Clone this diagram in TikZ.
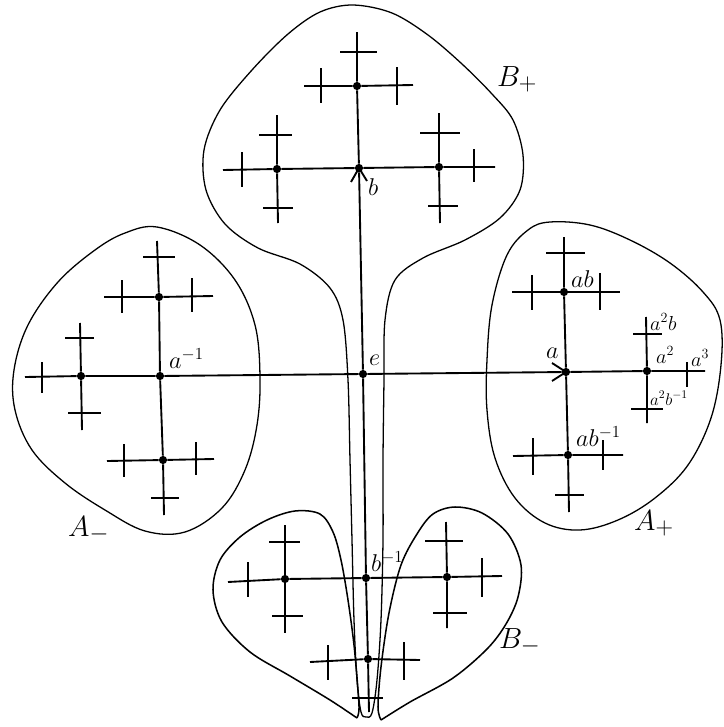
\documentclass[tikz,border=0pt]{standalone}
\begin{document}
\begin{tikzpicture}[x=0.03cm,y=-0.03cm,
  tree/.style={line width=1.6pt},
  tick/.style={line width=1.3pt},
  contour/.style={line width=1.1pt},
  lobe/.style={line width=1.3pt},
  dot/.style={circle,fill,inner sep=0pt,minimum size=7pt},
  lab/.style={inner sep=0pt,anchor=base west,font=\huge},
  slab/.style={inner sep=0pt,anchor=base west,font=\LARGE},
  xlab/.style={inner sep=0pt,anchor=base west,font=\Large},
  region/.style={inner sep=0pt,anchor=base west,font=\fontsize{28}{30}\selectfont}]
\useasboundingbox (0,0) rectangle (723,727);

% ---------- contours ----------
\draw[contour] plot[smooth cycle, tension=0.55] coordinates {
 (353,5) (392,13) (428,35) (462,64) (492,94) (513,120) (523,155) (520,190)
 (500,218) (465,240) (423,258) (395,280) (385,320) (384,380) (383,460)
 (383,540) (381,620) (377,680) (372,713) (366,717) (361,712) (357,680)
 (354,620) (352,540) (350,460) (348,380) (343,320) (330,288) (300,264)
 (258,248) (225,224) (206,190) (204,150) (220,110) (252,70) (288,34)
 (320,12)};
\draw[contour] plot[smooth cycle, tension=0.6] coordinates {
 (157,227) (200,245) (235,280) (255,325) (260,377) (257,425) (245,470)
 (222,508) (185,532) (145,531) (105,510) (65,483) (32,450) (15,410)
 (14,370) (28,325) (58,282) (95,250) (125,233)};
\draw[contour] plot[smooth cycle, tension=0.6] coordinates {
 (550,222) (590,225) (630,240) (670,263) (703,292) (720,320) (721,365)
 (711,418) (688,465) (655,498) (618,520) (580,530) (545,523) (515,498)
 (495,458) (487,410) (487,360) (492,305) (507,255) (528,230)};
\draw[lobe] plot[smooth, tension=0.55] coordinates {
 (357,718) (330,700) (290,676) (250,652) (222,622) (213,590) (220,560)
 (240,537) (267,520) (295,511) (320,514) (333,532) (341,560) (348,600)
 (354,645) (358,690) (359,710) (357,718)};
\draw[lobe] plot[smooth, tension=0.55] coordinates {
 (381,720) (410,702) (453,678) (487,649) (506,624) (518,597) (521,565)
 (508,534) (482,513) (455,507) (433,514) (417,534) (401,565) (389,613)
 (381,667) (378,707) (381,720)};

% ---------- vertices ----------
\coordinate (top) at (357,32);
\coordinate (bot) at (369,712);
\coordinate (left) at (25,377);
\coordinate (right) at (705,371);
\node[dot] (e) at (363,374) {};
\node[dot] (b) at (359,168) {};
\node[dot] (bu) at (357,86) {};
\node[dot] (bl) at (277,169) {};
\node[dot] (br) at (439,167) {};
\node[dot] (ainv) at (160,376) {};
\node[dot] (al) at (81,376) {};
\node[dot] (au) at (159,297) {};
\node[dot] (ad) at (163,460) {};
\node[dot] (a) at (566,372) {};
\node[dot] (ab) at (564,292) {};
\node[dot] (abi) at (568,455) {};
\node[dot] (a2) at (647,371) {};
\node[dot] (binv) at (366,578) {};
\node[dot] (bl2) at (285,579) {};
\node[dot] (br2) at (447,577) {};
\node[dot] (bb) at (368,659) {};

% ---------- main axes ----------
\draw[tree] (top) -- (bu) -- (b) -- (e) -- (binv) -- (bb) -- (bot);
\draw[tree] (left) -- (al) -- (ainv) -- (e) -- (a) -- (a2) -- (right);

% ---------- B+ ----------
\draw[tree] (304,86) -- (bu) -- (413,85);
\draw[tree] (223,170) -- (bl) -- (b) -- (br) -- (495,167);
\draw[tree] (277,115) -- (bl) -- (278,223);
\draw[tree] (439,113) -- (br) -- (440,223);
\draw[tick] (340,52) -- (377,52);
\draw[tick] (321,68) -- (321,103);
\draw[tick] (397,67) -- (397,105);
\draw[tick] (259,135) -- (292,135);
\draw[tick] (263,208) -- (293,208);
\draw[tick] (242,152) -- (242,187);
\draw[tick] (420,133) -- (460,133);
\draw[tick] (428,206) -- (458,206);
\draw[tick] (474,149) -- (474,182);
\draw[tree] (b) ++(-8,14) -- (b.center) -- ++(8,13);

% ---------- A- ----------
\draw[tree] (157,241) -- (au) -- (ainv) -- (ad) -- (164,515);
\draw[tree] (80,323) -- (al) -- (82,430);
\draw[tree] (104,297) -- (au) -- (213,296);
\draw[tree] (107,461) -- (ad) -- (214,459);
\draw[tick] (65,338) -- (94,338);
\draw[tick] (68,413) -- (101,413);
\draw[tick] (42,362) -- (42,393);
\draw[tick] (143,257) -- (175,257);
\draw[tick] (122,280) -- (122,313);
\draw[tick] (192,278) -- (192,312);
\draw[tick] (124,444) -- (124,477);
\draw[tick] (196,442) -- (196,475);
\draw[tick] (151,498) -- (179,498);

% ---------- A+ ----------
\draw[tree] (564,237) -- (ab) -- (a) -- (abi) -- (569,512);
\draw[tree] (512,292) -- (ab) -- (620,292);
\draw[tree] (513,456) -- (abi) -- (623,455);
\draw[tree] (646,317) -- (a2) -- (647,423);
\draw[tick] (546,253) -- (585,253);
\draw[tick] (532,275) -- (532,310);
\draw[tick] (600,273) -- (600,310);
\draw[tick] (533,438) -- (533,475);
\draw[tick] (603,440) -- (603,470);
\draw[tick] (555,495) -- (584,495);
\draw[tick] (633,334) -- (662,334);
\draw[tick] (631,409) -- (663,409);
\draw[tick] (687,362) -- (687,387);
\draw[tree] (a) ++(-14,-9) -- (a.center) -- ++(-14,9);

% ---------- B- ----------
\draw[tree] (228,582) -- (bl2) -- (binv) -- (br2) -- (502,576);
\draw[tree] (285,525) -- (bl2) -- (285,633);
\draw[tree] (446,522) -- (br2) -- (447,628);
\draw[tree] (310,662) -- (bb) -- (420,660);
\draw[tick] (269,542) -- (300,542);
\draw[tick] (272,616) -- (303,616);
\draw[tick] (248,562) -- (248,597);
\draw[tick] (425,541) -- (463,541);
\draw[tick] (433,613) -- (467,613);
\draw[tick] (482,558) -- (482,597);
\draw[tick] (328,645) -- (328,680);
\draw[tick] (404,642) -- (404,680);
\draw[tick] (352,698) -- (383,698);

% ---------- labels ----------
\node[lab] (le) at (369,365) {$e$};
\node[lab] (lb) at (368,195) {$b$};
\node[lab] (lainv) at (169,368) {$a^{-1}$};
\node[lab] (la) at (546,358) {$a$};
\node[lab] (lab1) at (571,287) {$ab$};
\node[slab] (la2b) at (650,330) {$a^2b$};
\node[slab] (la2) at (656,363) {$a^2$};
\node[slab] (la3) at (691,366) {$a^3$};
\node[xlab] (la2bi) at (650,405) {$a^2b^{-1}$};
\node[lab] (labi) at (576,446) {$ab^{-1}$};
\node[lab] (lbinv) at (371,571) {$b^{-1}$};
\node[region] (Bp) at (497,86) {$B_+$};
\node[region] (Am) at (68,536) {$A_-$};
\node[region] (Ap) at (634,530) {$A_+$};
\node[region] (Bm) at (499,648) {$B_-$};
\end{tikzpicture}
\end{document}
